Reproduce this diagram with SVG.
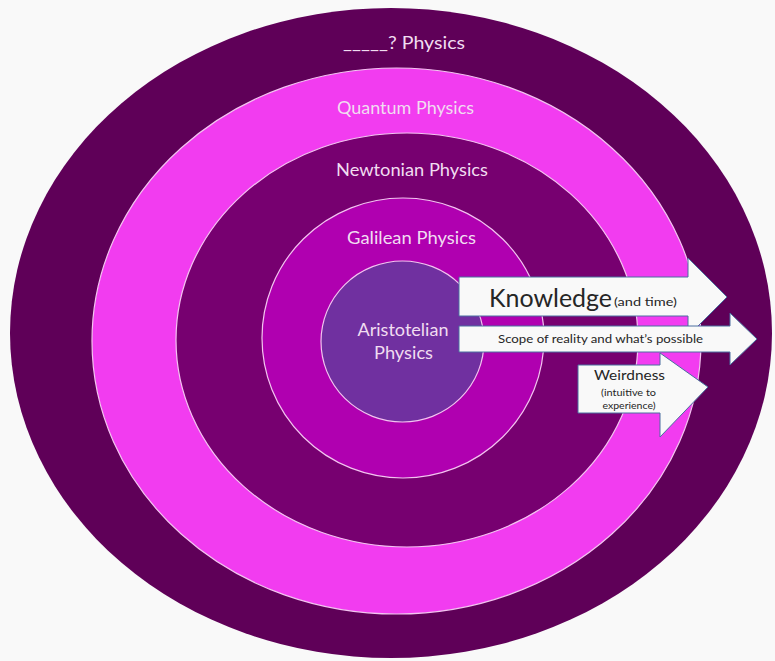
<svg xmlns="http://www.w3.org/2000/svg" width="775" height="661" viewBox="0 0 775 661">
<style>
.ring{stroke:#f3c4f0;stroke-width:1.2}
.lbl{font-family:Lato,"Open Sans","Liberation Sans",sans-serif;fill:#f1ddf1;text-anchor:middle;font-size:17px}
.arrow{fill:#f9f9f9;stroke:#4a6fa0;stroke-width:1}
.at{font-family:Lato,"Open Sans","Liberation Sans",sans-serif;fill:#262626}
</style>
<rect width="775" height="661" fill="#f9f9f9"/>
<g id="unknown-physics">
<ellipse cx="391" cy="333" rx="381" ry="325" fill="#5f0058"/>
<text class="lbl" x="404" y="49" textLength="122" lengthAdjust="spacingAndGlyphs">_____? Physics</text>
</g>
<g id="quantum-physics">
<ellipse class="ring" cx="396.5" cy="341" rx="304.5" ry="273" fill="#f23cf0"/>
<text class="lbl" x="405.5" y="114" textLength="137" lengthAdjust="spacingAndGlyphs">Quantum Physics</text>
</g>
<g id="newtonian-physics">
<ellipse class="ring" cx="407" cy="340" rx="231" ry="207" fill="#770070"/>
<text class="lbl" x="412" y="176" textLength="152" lengthAdjust="spacingAndGlyphs">Newtonian Physics</text>
</g>
<g id="galilean-physics">
<ellipse class="ring" cx="403" cy="338" rx="141" ry="140" fill="#b000b0"/>
<text class="lbl" x="411.5" y="244" textLength="129" lengthAdjust="spacingAndGlyphs">Galilean Physics</text>
</g>
<g id="aristotelian-physics">
<ellipse class="ring" cx="402.5" cy="341.5" rx="81.5" ry="80.5" fill="#7030a0"/>
<text class="lbl" x="403" y="336" textLength="91" lengthAdjust="spacingAndGlyphs">Aristotelian</text>
<text class="lbl" x="403.5" y="359" textLength="59" lengthAdjust="spacingAndGlyphs">Physics</text>
</g>
<g id="connectors">
<g id="arrow-knowledge">
<polygon class="arrow" points="459,277 688,277 688,258 727,297 688,336 688,316 459,316"/>
<text class="at" x="489" y="307" font-size="25" textLength="123" lengthAdjust="spacingAndGlyphs">Knowledge</text>
<text class="at" x="614" y="306" font-size="12" textLength="63" lengthAdjust="spacingAndGlyphs">(and time)</text>
</g>
<g id="arrow-weirdness">
<polygon class="arrow" points="578,365 660,365 660,353 708,387 660,437 660,413 578,413"/>
<text class="at" x="629.5" y="380" font-size="14" text-anchor="middle" textLength="71" lengthAdjust="spacingAndGlyphs">Weirdness</text>
<text class="at" x="628.5" y="396" font-size="10" text-anchor="middle" textLength="55" lengthAdjust="spacingAndGlyphs">(intuitive to</text>
<text class="at" x="629" y="409" font-size="10" text-anchor="middle" textLength="53" lengthAdjust="spacingAndGlyphs">experience)</text>
</g>
<g id="arrow-scope">
<polygon class="arrow" points="459,326 730,326 730,313 757,339 730,365 730,352 459,352"/>
<text class="at" x="600.5" y="343" font-size="12" text-anchor="middle" textLength="205" lengthAdjust="spacingAndGlyphs">Scope of reality and what’s possible</text>
</g>
</g>
</svg>
